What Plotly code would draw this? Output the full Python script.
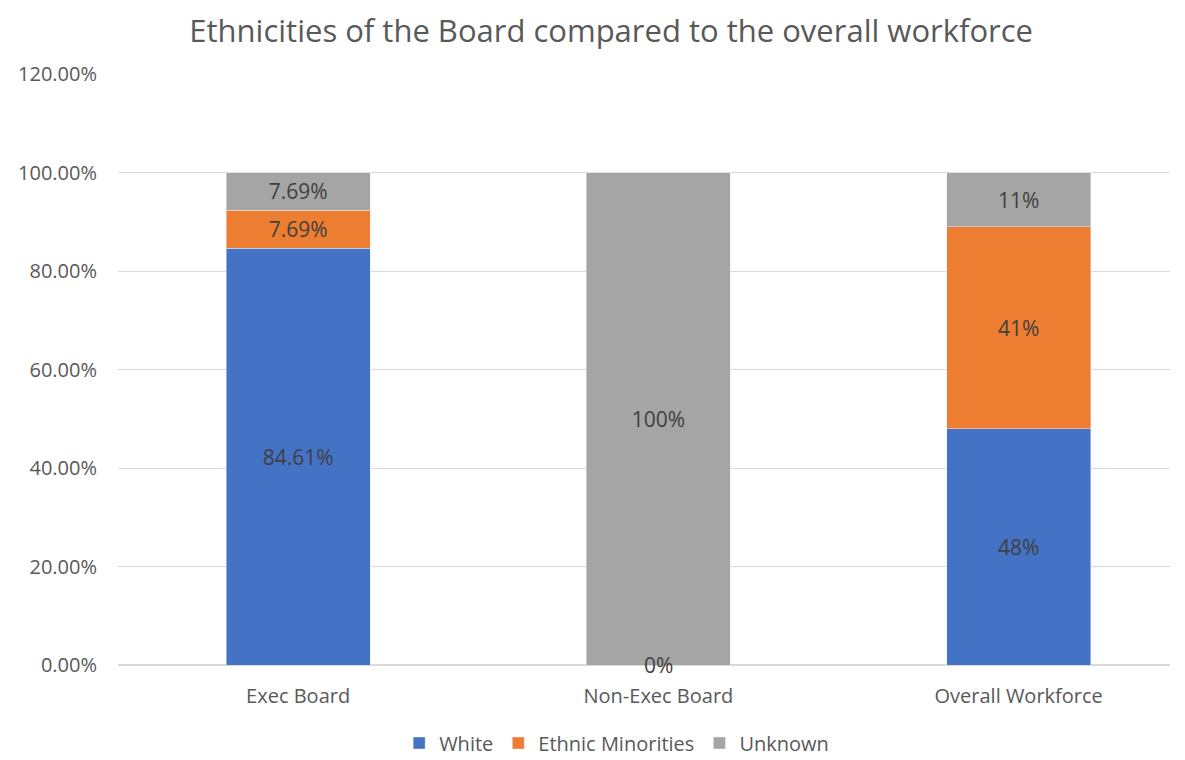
import plotly.graph_objects as go

categories = ["Exec Board", "Non-Exec Board", "Overall Workforce"]
white = [0.8461, 0.0, 0.48]
ethnic_minorities = [0.0769, 0.0, 0.41]
unknown = [0.0769, 1.0, 0.11]
white_labels = ["84.61%", "0%", "48%"]
ethnic_labels = ["7.69%", "0%", "41%"]
unknown_labels = ["7.69%", "100%", "11%"]

series = [
    ("White", white, white_labels, "#4472C4"),
    ("Ethnic Minorities", ethnic_minorities, ethnic_labels, "#ED7D31"),
    ("Unknown", unknown, unknown_labels, "#A5A5A5"),
]

font = "Open Sans, sans-serif"
fig = go.Figure()
for name, vals, labels, color in series:
    fig.add_trace(go.Bar(
        x=categories, y=vals, name=name, marker_color=color,
        text=[l if v > 0 else "" for v, l in zip(vals, labels)],
        textposition="inside", insidetextanchor="middle", textangle=0,
        constraintext="none",
        textfont=dict(color="#404040", size=21, family=font),
        width=0.4,
    ))

# zero-height segments still get their label at the base (they coincide, so one per bar)
zero_labels = {}
for name, vals, labels, color in series:
    for c, v, l in zip(categories, vals, labels):
        if v == 0:
            zero_labels.setdefault(c, set()).add(l)
for c, labs in zero_labels.items():
    fig.add_annotation(x=c, y=0, text=" ".join(sorted(labs)), showarrow=False, yanchor="middle",
                       font=dict(color="#404040", size=21, family=font))

fig.update_layout(
    barmode="stack",
    width=1185, height=760,
    paper_bgcolor="white", plot_bgcolor="white",
    margin=dict(l=110, r=23, t=66, b=103, autoexpand=False),
    title=dict(text="Ethnicities of the Board compared to the overall workforce",
               x=0.509, xref="container", xanchor="center", y=0.970, yanchor="middle",
               font=dict(size=31, color="#595959", family=font)),
    legend=dict(orientation="h", x=0.474, xanchor="center", y=-0.132, yanchor="middle",
                font=dict(size=20, color="#595959", family=font), traceorder="normal",
                itemwidth=30),
)
fig.update_yaxes(range=[0, 1.2], dtick=0.2, tickformat=".2%", showgrid=True,
                 gridcolor="#D9D9D9", gridwidth=1, zeroline=True, zerolinecolor="#D9D9D9",
                 tickfont=dict(size=20, color="#595959", family=font), ticks="",
                 ticklabelstandoff=20, automargin=False)
fig.update_xaxes(range=[-0.5, 2.42], tickfont=dict(size=20, color="#595959", family=font),
                 showline=False, ticklabelstandoff=17, automargin=False)

fig.write_html("out.html")
